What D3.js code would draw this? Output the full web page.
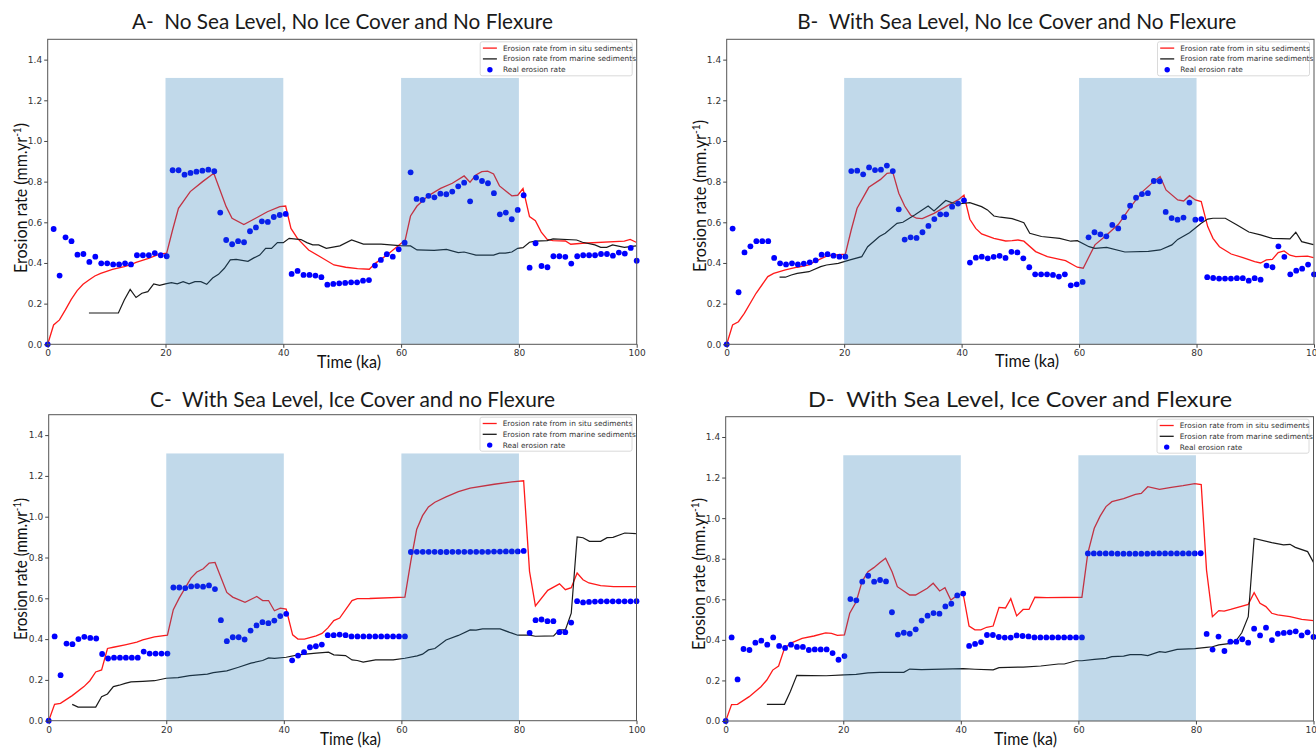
<!DOCTYPE html>
<html lang="en">
<head>
<meta charset="UTF-8">
<title>Erosion rate scenarios</title>
<script src="https://cdnjs.cloudflare.com/ajax/libs/d3/7.8.5/d3.min.js"></script>
<style>
  body { margin: 0; background: #fff; }
  svg { display: block; }
  .tick text { font-family: "DejaVu Sans", sans-serif; font-size: 9px; fill: #333; }
  .tick line { stroke: #444; }
</style>
</head>
<body>
<div id="chart"></div>
<script>
// ---- data ----
var xTicks = [0, 20, 40, 60, 80, 100];
var yTicks = [0, 0.2, 0.4, 0.6, 0.8, 1.0, 1.2, 1.4];
var glacials = [[20, 40], [60, 80]];
var glacialTop = 1.31;
var legendLabels = ["Erosion rate from in situ sediments", "Erosion rate from marine sediments", "Real erosion rate"];
var titles = ["A-  No Sea Level, No Ice Cover and No Flexure",
              "B-  With Sea Level, No Ice Cover and No Flexure",
              "C-  With Sea Level, Ice Cover and no Flexure",
              "D-  With Sea Level, Ice Cover and Flexure"];

// real erosion rate: 100 samples between 0 and 100 ka
var dotsA = [0,0.567,0.338,0.526,0.507,0.441,0.444,0.405,0.431,0.398, 0.398,0.393,0.393,0.398,0.393,0.438,0.438,0.438,0.448,0.438,
  0.433,0.856,0.856,0.834,0.843,0.849,0.854,0.859,0.851,0.648, 0.513,0.492,0.507,0.502,0.556,0.575,0.605,0.602,0.626,0.636,
  0.641,0.346,0.361,0.341,0.341,0.338,0.330,0.293,0.297,0.300, 0.302,0.305,0.305,0.313,0.316,0.387,0.415,0.443,0.431,0.467,
  0.500,0.846,0.715,0.710,0.730,0.723,0.741,0.738,0.751,0.777, 0.795,0.703,0.820,0.803,0.792,0.743,0.639,0.648,0.615,0.661,
  0.733,0.377,0.497,0.385,0.379,0.433,0.433,0.430,0.397,0.433, 0.438,0.438,0.438,0.444,0.444,0.436,0.451,0.446,0.474,0.411];
var dotsB = [0,0.569,0.256,0.452,0.482,0.507,0.507,0.507,0.425,0.398, 0.393,0.398,0.393,0.397,0.403,0.413,0.441,0.443,0.436,0.431,
  0.431,0.852,0.854,0.836,0.870,0.857,0.859,0.879,0.852,0.664, 0.515,0.526,0.523,0.551,0.582,0.616,0.639,0.639,0.677,0.692,
  0.708,0.402,0.426,0.431,0.423,0.430,0.435,0.425,0.455,0.452, 0.423,0.379,0.344,0.344,0.344,0.341,0.333,0.344,0.290,0.295,
  0.307,0.526,0.551,0.541,0.531,0.587,0.570,0.625,0.682,0.721, 0.739,0.743,0.803,0.802,0.651,0.621,0.613,0.623,0.697,0.613,
  0.616,0.330,0.326,0.323,0.323,0.323,0.325,0.325,0.313,0.325, 0.318,0.387,0.379,0.482,0.430,0.344,0.362,0.372,0.392,0.344];
var dotsC = [0,0.413,0.223,0.378,0.375,0.400,0.411,0.406,0.403,0.327, 0.305,0.309,0.309,0.309,0.309,0.309,0.339,0.329,0.329,0.329,
  0.329,0.653,0.653,0.650,0.658,0.660,0.657,0.663,0.645,0.493, 0.390,0.409,0.409,0.398,0.442,0.467,0.483,0.478,0.491,0.513,
  0.524,0.296,0.319,0.336,0.360,0.365,0.373,0.419,0.419,0.422, 0.419,0.413,0.413,0.413,0.413,0.413,0.413,0.413,0.413,0.413,
  0.413,0.827,0.828,0.828,0.828,0.828,0.827,0.827,0.828,0.828, 0.828,0.828,0.828,0.828,0.828,0.829,0.829,0.830,0.830,0.830,
  0.832,0.431,0.493,0.496,0.488,0.488,0.434,0.434,0.481,0.586, 0.580,0.582,0.584,0.585,0.585,0.585,0.585,0.585,0.585,0.586];
var dotsD = [0,0.412,0.205,0.355,0.350,0.386,0.396,0.376,0.412,0.370, 0.360,0.376,0.365,0.365,0.350,0.353,0.353,0.353,0.335,0.302,
  0.320,0.601,0.595,0.687,0.716,0.687,0.695,0.688,0.536,0.426, 0.435,0.430,0.452,0.495,0.519,0.532,0.529,0.565,0.578,0.619,
  0.628,0.370,0.380,0.389,0.424,0.424,0.414,0.411,0.411,0.422, 0.419,0.417,0.412,0.412,0.412,0.412,0.412,0.412,0.412,0.412,
  0.412,0.826,0.826,0.826,0.826,0.826,0.825,0.825,0.825,0.825, 0.825,0.825,0.826,0.826,0.826,0.826,0.826,0.826,0.826,0.826,
  0.827,0.429,0.352,0.416,0.345,0.391,0.391,0.403,0.386,0.455, 0.422,0.460,0.399,0.430,0.434,0.437,0.442,0.422,0.437,0.414];

// [time ka, erosion rate] vertices of the modelled curves
var insituA = [[0,0],[1,0.095],[2,0.12],[3,0.169],[4,0.221],[5,0.264],[6,0.295],[7,0.316],[8,0.336],[9,0.349],[10,0.359],[11,0.369],[13,0.382],[14,0.39],[15,0.403],[17,0.421],[19,0.443],[20.2,0.448],[21.2,0.562],[22.2,0.669],[24.2,0.751],[26.3,0.8],[28.2,0.841],[30.3,0.677],[31.3,0.62],[33.3,0.589],[35.3,0.62],[37.3,0.652],[39.4,0.677],[40.4,0.68],[41.3,0.57],[42.4,0.521],[44.3,0.464],[46.4,0.428],[48.6,0.39],[50.6,0.379],[52.6,0.372],[54.6,0.369],[55.6,0.398],[57.6,0.439],[60.7,0.513],[61.6,0.631],[62.7,0.68],[64.6,0.73],[66.7,0.767],[68.7,0.792],[70.7,0.828],[71.7,0.797],[72.7,0.833],[73.7,0.849],[74.7,0.852],[75.7,0.838],[76.7,0.779],[78.8,0.73],[79.8,0.733],[80.7,0.766],[81.8,0.628],[82.8,0.608],[83.8,0.552],[84.8,0.516],[85.8,0.51],[87.9,0.508],[88.8,0.492],[90.8,0.497],[97.9,0.507],[98.9,0.516],[99.9,0.502]];
var marineA = [[7,0.154],[12,0.154],[13,0.218],[14,0.27],[15,0.23],[16,0.251],[17,0.259],[18,0.297],[19,0.29],[20,0.297],[21,0.303],[22,0.297],[23,0.308],[24,0.297],[25,0.308],[26,0.308],[27,0.295],[28,0.326],[29,0.344],[30,0.374],[31,0.415],[32,0.418],[34,0.408],[35,0.425],[36,0.439],[37,0.472],[38,0.472],[39,0.5],[40,0.5],[41,0.521],[43,0.515],[44,0.5],[45,0.489],[46,0.489],[47.3,0.472],[49.6,0.484],[51.6,0.513],[53.6,0.493],[56.6,0.493],[59.7,0.485],[61.6,0.484],[62.7,0.464],[65.6,0.462],[67.7,0.467],[69.7,0.451],[70.7,0.454],[72.7,0.439],[75.7,0.439],[76.7,0.448],[77.7,0.448],[78.8,0.454],[79.8,0.472],[80.7,0.475],[81.8,0.502],[82.8,0.507],[84.8,0.51],[85.8,0.518],[89.8,0.513],[90.8,0.502],[92.9,0.489],[93.9,0.477],[94.9,0.477],[95.9,0.489],[97.9,0.477],[99.9,0.484]];
var insituB = [[0,0],[1,0.095],[2,0.111],[3,0.152],[5,0.251],[7,0.333],[8,0.349],[10,0.366],[12,0.379],[14,0.39],[15,0.407],[17,0.434],[18,0.438],[20.2,0.443],[21.2,0.562],[22.2,0.669],[24.2,0.772],[26.2,0.811],[27.3,0.841],[28.3,0.844],[29.3,0.743],[30.3,0.68],[31.3,0.636],[32.3,0.62],[33.3,0.618],[35.3,0.644],[37.3,0.677],[38.3,0.693],[39.4,0.71],[40.4,0.733],[41.4,0.615],[42.4,0.57],[43.4,0.543],[45.5,0.521],[47.5,0.508],[48.6,0.51],[49.6,0.513],[50.6,0.507],[52.6,0.456],[54.6,0.431],[56.7,0.418],[57.7,0.411],[59.7,0.379],[60.7,0.374],[62.7,0.489],[64.7,0.538],[66.7,0.59],[68.8,0.677],[70.8,0.751],[72.7,0.8],[73.8,0.825],[74.8,0.759],[76.8,0.71],[77.8,0.705],[78.8,0.731],[79.8,0.71],[80.8,0.702],[81.9,0.579],[82.8,0.521],[83.9,0.48],[85.9,0.444],[87.9,0.426],[89.9,0.407],[90.9,0.4],[91.9,0.415],[92.9,0.418],[93.9,0.451],[94.9,0.459],[95.9,0.438],[96.9,0.431],[98.9,0.434],[99.9,0.426]];
var marineB = [[9,0.33],[10,0.33],[11,0.341],[12,0.349],[14,0.357],[16,0.382],[17,0.39],[19,0.398],[21,0.415],[23,0.431],[24,0.48],[26,0.53],[27,0.546],[29,0.595],[30,0.6],[32,0.636],[34.3,0.68],[35.3,0.656],[37.3,0.707],[38.3,0.697],[39.4,0.69],[41.4,0.697],[43.4,0.677],[44.4,0.661],[45.5,0.631],[46.6,0.625],[48.6,0.618],[50.6,0.598],[51.6,0.546],[53.6,0.53],[56.7,0.521],[58.6,0.507],[59.7,0.51],[61.7,0.48],[62.7,0.472],[64.7,0.477],[67.8,0.454],[71.8,0.457],[73.8,0.464],[75.8,0.489],[76.8,0.516],[78.8,0.549],[80.8,0.595],[81.9,0.616],[82.8,0.62],[84.9,0.62],[86.9,0.587],[88.9,0.552],[90.9,0.538],[92.9,0.521],[95.9,0.518],[96.9,0.551],[97.9,0.505],[99.9,0.49]];
var insituC = [[0,0],[1,0.08],[2,0.085],[4,0.123],[6,0.167],[7,0.196],[8,0.239],[9,0.249],[10,0.354],[11,0.36],[13,0.372],[15,0.385],[16,0.396],[18,0.411],[20.2,0.419],[21.2,0.544],[22.2,0.601],[24.2,0.699],[25.2,0.729],[26.3,0.745],[27.3,0.773],[28.3,0.776],[30.3,0.629],[31.3,0.606],[33.4,0.58],[35.4,0.609],[36.4,0.589],[37.4,0.589],[38.4,0.539],[39.4,0.552],[40.4,0.547],[41.5,0.421],[42.4,0.4],[43.5,0.4],[45.5,0.416],[46.5,0.428],[47.5,0.455],[48.5,0.491],[49.5,0.503],[51.6,0.589],[52.5,0.598],[54.6,0.599],[60.6,0.606],[61.6,0.781],[62.6,0.937],[63.6,1.005],[64.6,1.048],[65.7,1.071],[67.6,1.097],[69.7,1.123],[71.7,1.14],[75.8,1.159],[78.8,1.171],[80.8,1.176],[81.8,0.732],[82.8,0.563],[84.9,0.639],[86.9,0.671],[87.9,0.642],[88.9,0.652],[89.9,0.724],[90.9,0.691],[91.9,0.675],[93.9,0.662],[96.1,0.657],[99.9,0.657]];
var marineC = [[4,0.08],[5,0.067],[8,0.067],[9,0.118],[10,0.131],[11,0.167],[12,0.174],[13,0.183],[14,0.19],[16,0.193],[18,0.196],[20,0.208],[22,0.211],[24,0.221],[27,0.228],[28,0.236],[30.3,0.244],[32.3,0.262],[34.4,0.282],[36.4,0.295],[37.4,0.308],[38.4,0.306],[40.4,0.311],[42.4,0.323],[45.5,0.331],[47.6,0.336],[48.5,0.323],[50.5,0.319],[51.6,0.298],[52.5,0.295],[53.5,0.287],[55.6,0.298],[58.6,0.298],[60.6,0.306],[62.7,0.318],[63.6,0.326],[64.6,0.347],[65.7,0.354],[67.6,0.396],[69.7,0.418],[71.7,0.445],[72.7,0.444],[73.8,0.45],[76.8,0.45],[78.8,0.429],[79.8,0.419],[81.8,0.419],[82.8,0.414],[85.9,0.416],[86.9,0.445],[87.9,0.445],[88.9,0.527],[89.9,0.901],[90.9,0.897],[92,0.879],[93.9,0.879],[95,0.897],[96,0.899],[98,0.92],[99.9,0.917]];
var insituD = [[0,0],[1,0.081],[2,0.082],[4,0.12],[6,0.169],[7,0.202],[8,0.251],[9,0.271],[10,0.358],[11,0.383],[13,0.407],[15,0.419],[17,0.434],[18,0.432],[19,0.422],[20.2,0.424],[21.1,0.531],[22.2,0.588],[23.2,0.687],[24.2,0.736],[25.2,0.756],[26.2,0.78],[27.2,0.802],[28.3,0.736],[29.2,0.662],[31.3,0.621],[32.3,0.621],[34.3,0.654],[35.3,0.679],[36.4,0.641],[37.3,0.657],[38.3,0.596],[39.4,0.619],[40.4,0.626],[41.4,0.468],[42.4,0.449],[43.4,0.449],[44.4,0.462],[45.5,0.468],[46.5,0.56],[47.6,0.557],[48.5,0.603],[49.5,0.518],[50.6,0.55],[51.6,0.55],[52.6,0.61],[54.6,0.608],[60.6,0.61],[61.6,0.826],[62.7,0.95],[63.7,1.01],[64.7,1.057],[65.7,1.081],[67.7,1.096],[69.7,1.117],[70.7,1.122],[71.8,1.155],[73.8,1.142],[75.8,1.152],[77.8,1.16],[79.8,1.17],[80.9,1.165],[81.8,0.744],[82.8,0.514],[83.9,0.544],[84.8,0.542],[85.9,0.55],[88.9,0.575],[89.9,0.633],[90.9,0.58],[91.9,0.564],[92.9,0.531],[93.9,0.523],[96,0.514],[98,0.501],[100,0.495]];
var marineD = [[7,0.082],[10,0.082],[11,0.145],[12.1,0.225],[17.1,0.223],[20.2,0.227],[22.2,0.23],[24.2,0.237],[26.2,0.24],[30.3,0.24],[31.3,0.256],[33.3,0.253],[40.4,0.258],[42.4,0.255],[45.5,0.252],[46.5,0.263],[50.6,0.266],[53.6,0.271],[56.6,0.281],[57.6,0.281],[59.6,0.297],[60.6,0.297],[62.7,0.304],[64.7,0.309],[65.7,0.317],[67.7,0.32],[68.8,0.327],[70.7,0.327],[71.8,0.322],[73.8,0.342],[74.8,0.338],[76.8,0.353],[79.8,0.357],[81.8,0.363],[82.8,0.366],[83.9,0.375],[85.9,0.383],[86.9,0.399],[87.8,0.435],[88.9,0.514],[89.9,0.9],[92.9,0.879],[94.9,0.868],[96,0.871],[96.9,0.856],[99,0.835],[100,0.782]];

// ---- layout of the four panels (pixels) ----
var panels = [
  {title: titles[0], dots: dotsA, insitu: insituA, marine: marineA,
   x0: 47.7, x1: 636.7, y0: 39.3, y1: 344.3, tx: 342.4, ty: 29, tw: 421,
   xl: [349, 368, 64], yl: [27, 198, 150]},
  {title: titles[1], dots: dotsB, insitu: insituB, marine: marineB,
   x0: 726.7, x1: 1314, y0: 39.3, y1: 344.3, tx: 1016.7, ty: 29, tw: 439,
   xl: [1027, 367, 64], yl: [706, 196, 152]},
  {title: titles[2], dots: dotsC, insitu: insituC, marine: marineC,
   x0: 48.7, x1: 636.5, y0: 414.7, y1: 720.7, tx: 352.5, ty: 406.7, tw: 405,
   xl: [350.5, 745, 61], yl: [27, 569, 142]},
  {title: titles[3], dots: dotsD, insitu: insituD, marine: marineD,
   x0: 725.7, x1: 1313.5, y0: 416.7, y1: 721, tx: 1020, ty: 407, tw: 424,
   xl: [1025.5, 745, 63], yl: [705, 574, 152]}
];

var svg = d3.select("#chart").append("svg")
    .attr("width", 1316)
    .attr("height", 749);

panels.forEach(function (p) {
    var x = d3.scaleLinear().domain([0, 100]).range([p.x0, p.x1]);
    var y = d3.scaleLinear().domain([0, 1.5]).range([p.y1, p.y0]);
    var g = svg.append("g");

    var line = d3.line()
        .x(function (d) { return x(d[0]); })
        .y(function (d) { return y(d[1]); });

    g.append("path")
        .datum(p.insitu)
        .attr("d", line)
        .attr("fill", "none")
        .attr("stroke", "#ff1a1a")
        .attr("stroke-width", 1.3);

    g.append("path")
        .datum(p.marine)
        .attr("d", line)
        .attr("fill", "none")
        .attr("stroke", "#1a1a1a")
        .attr("stroke-width", 1.2);

    g.selectAll("circle.real")
        .data(p.dots)
        .enter().append("circle")
        .attr("class", "real")
        .attr("cx", function (d, i) { return x(i * 100 / 99); })
        .attr("cy", function (d) { return y(d); })
        .attr("r", 2.9)
        .attr("fill", "#0000ff");

    // glacial periods, drawn over the curves
    g.selectAll("rect.glacial")
        .data(glacials)
        .enter().append("rect")
        .attr("class", "glacial")
        .attr("x", function (d) { return x(d[0]); })
        .attr("width", function (d) { return x(d[1]) - x(d[0]); })
        .attr("y", y(glacialTop))
        .attr("height", y(0) - y(glacialTop))
        .attr("fill", "#1f77b4")
        .attr("opacity", 0.28);

    // frame
    g.append("rect")
        .attr("x", p.x0).attr("y", p.y0)
        .attr("width", p.x1 - p.x0).attr("height", p.y1 - p.y0)
        .attr("fill", "none")
        .attr("stroke", "#555")
        .attr("stroke-width", 1);

    g.append("g")
        .attr("transform", "translate(0," + p.y1 + ")")
        .call(d3.axisBottom(x).tickValues(xTicks).tickFormat(d3.format("d")).tickSize(3.5).tickPadding(2))
        .call(function (a) { a.select(".domain").remove(); });

    g.append("g")
        .attr("transform", "translate(" + p.x0 + ",0)")
        .call(d3.axisLeft(y).tickValues(yTicks).tickFormat(d3.format(".1f")).tickSize(3.5).tickPadding(2))
        .call(function (a) { a.select(".domain").remove(); });

    // titles and axis labels
    svg.append("text")
        .attr("x", p.tx).attr("y", p.ty)
        .attr("text-anchor", "middle")
        .attr("textLength", p.tw)
        .attr("lengthAdjust", "spacingAndGlyphs")
        .style("white-space", "pre")
        .style("font-family", "Lato, 'Open Sans', sans-serif")
        .style("font-size", "21px")
        .attr("fill", "#1a1a1a")
        .text(p.title);

    svg.append("text")
        .attr("x", p.xl[0]).attr("y", p.xl[1])
        .attr("text-anchor", "middle")
        .attr("textLength", p.xl[2])
        .attr("lengthAdjust", "spacingAndGlyphs")
        .style("font-family", "Lato, 'Open Sans', sans-serif")
        .style("font-size", "17.5px")
        .attr("fill", "#111")
        .text("Time (ka)");

    var yl = svg.append("text")
        .attr("transform", "translate(" + p.yl[0] + "," + p.yl[1] + ") rotate(-90)")
        .attr("text-anchor", "middle")
        .attr("textLength", p.yl[2])
        .attr("lengthAdjust", "spacingAndGlyphs")
        .style("font-family", "Lato, 'Open Sans', sans-serif")
        .style("font-size", "17.5px")
        .attr("fill", "#111");
    yl.append("tspan").text("Erosion rate (mm.yr");
    yl.append("tspan").attr("dy", -6).style("font-size", "11px").text("-1");
    yl.append("tspan").attr("dy", 6).text(")");

    // legend
    var lx = p.x1 - 156.5, ly = p.y0 + 2.5;
    var leg = svg.append("g").attr("transform", "translate(" + lx + "," + ly + ")");
    leg.append("rect")
        .attr("width", 152).attr("height", 34).attr("rx", 2)
        .attr("fill", "#fff").attr("fill-opacity", 0.85)
        .attr("stroke", "#d0d0d0").attr("stroke-width", 0.8);
    var rows = leg.selectAll("g.row").data(legendLabels).enter().append("g")
        .attr("transform", function (d, i) { return "translate(0," + (6.3 + i * 10.8) + ")"; });
    rows.filter(function (d, i) { return i < 2; }).append("line")
        .attr("x1", 2.7).attr("x2", 16.7)
        .attr("stroke", function (d, i) { return i === 0 ? "#ff1a1a" : "#1a1a1a"; })
        .attr("stroke-width", 1.3);
    rows.filter(function (d, i) { return i === 2; }).append("circle")
        .attr("cx", 9.7).attr("r", 2.7).attr("fill", "#0000ff");
    rows.append("text")
        .attr("x", 22.7).attr("dy", "0.33em")
        .style("font-family", "'DejaVu Sans', sans-serif")
        .style("font-size", "7.4px")
        .attr("fill", "#333")
        .text(function (d) { return d; });
});
</script>
</body>
</html>
